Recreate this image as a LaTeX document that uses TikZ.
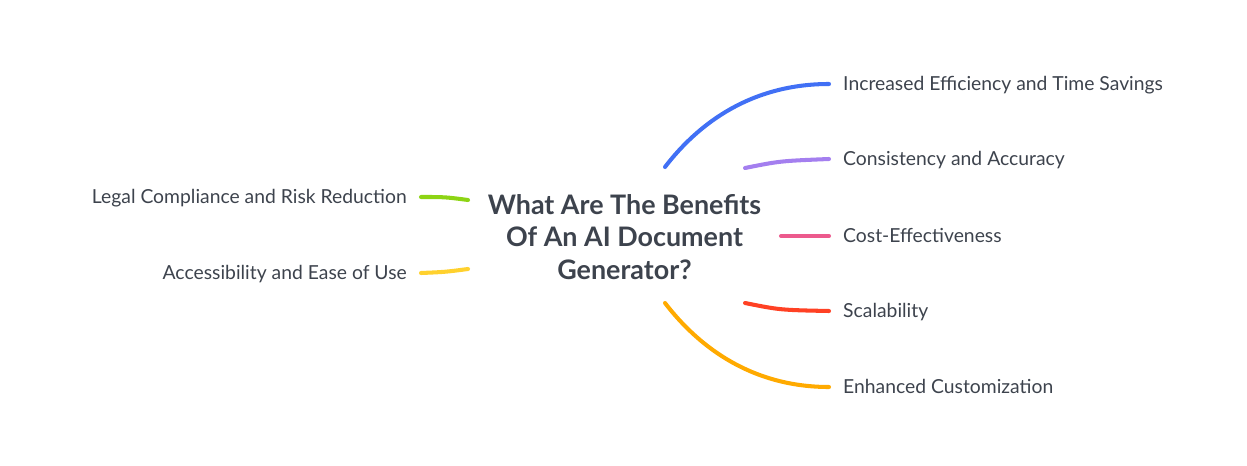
\documentclass[tikz,border=0pt]{standalone}
\usepackage{fontspec}
\setmainfont{Lato}
\definecolor{txtgrey}{HTML}{3D434D}
\definecolor{cblue}{HTML}{4170F5}
\definecolor{cpurple}{HTML}{A47FEF}
\definecolor{cpink}{HTML}{EC5A8D}
\definecolor{cred}{HTML}{FF4124}
\definecolor{corange}{HTML}{FFAA00}
\definecolor{cgreen}{HTML}{8DD414}
\definecolor{cyellow}{HTML}{FFD12E}

\begin{document}
\begin{tikzpicture}[x=0.02cm,y=-0.02cm,
  topic/.style = {font=\fontsize{15.3}{18.4}\selectfont\bfseries, text=txtgrey, align=center},
  leaf/.style = {font=\fontsize{11}{13}\selectfont, text=txtgrey, inner xsep=7.9pt, inner ysep=2pt, text height=7.9pt, text depth=0pt},
  branch/.style = {line width=2.3pt, line cap=round}]
					\useasboundingbox (0,0) rectangle (1247,466);
					\node[topic] (T) at (624.5,237) {What Are The Benefits\\Of An AI Document\\Generator?};
					\begin{scope}[every node/.style={leaf}]
						\node[anchor=west] (R1) at (829,84) {Increased Efficiency and Time Savings};
						\node[anchor=west] (R2) at (829,159) {Consistency and Accuracy};
						\node[anchor=west] (R3) at (829,236) {Cost-Effectiveness};
						\node[anchor=west] (R4) at (829,311) {Scalability};
						\node[anchor=west] (R5) at (829,387) {Enhanced Customization};
						\node[anchor=east] (L1) at (421,197) {Legal Compliance and Risk Reduction};
						\node[anchor=east] (L2) at (421,273) {Accessibility and Ease of Use};
					\end{scope}
					\coordinate (s1) at (665,167);
					\coordinate (s2) at (745,168);
					\coordinate (s3) at (781,236);
					\coordinate (s4) at (745,303);
					\coordinate (s5) at (665,303);
					\coordinate (t1) at (468,200);
					\coordinate (t2) at (468,269);
					\draw [branch,cblue] (s1) .. controls (705,115) and (760,84) .. (R1.west);
					\draw [branch,cpurple] (s2) .. controls (780,161) .. (R2.west);
					\draw [branch,cpink] (s3) -- (R3.west);
					\draw [branch,cred] (s4) .. controls (780,310) .. (R4.west);
					\draw [branch,corange] (s5) .. controls (705,355) and (760,387) .. (R5.west);
					\draw [branch,cgreen] (t1) .. controls (445,197) .. (L1.east);
					\draw [branch,cyellow] (t2) .. controls (445,272) .. (L2.east);
				\end{tikzpicture}
\end{document}
